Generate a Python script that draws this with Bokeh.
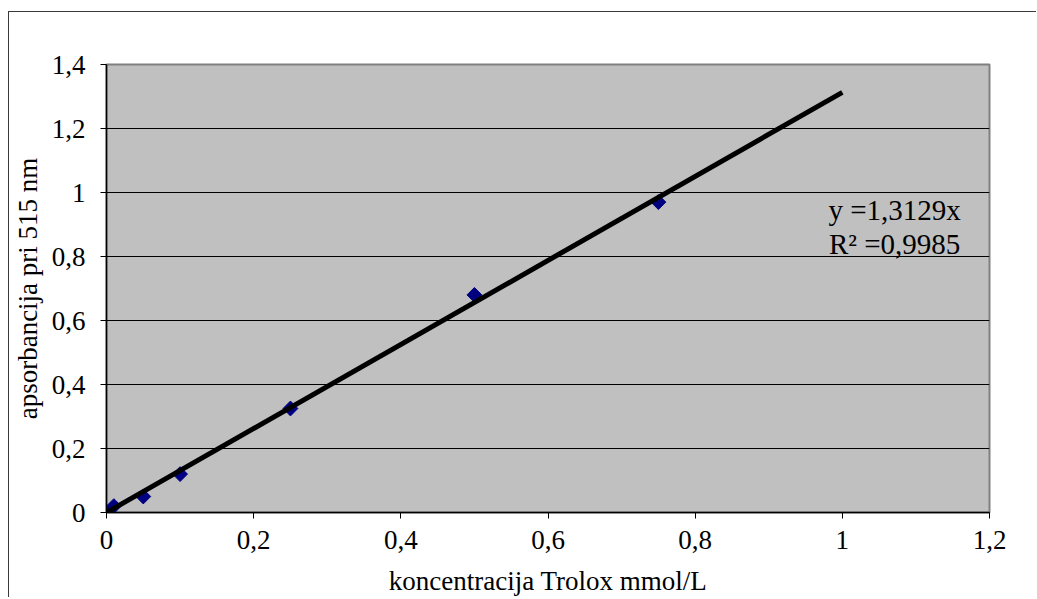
import math
from bokeh.plotting import figure
from bokeh.models import Range1d, CustomJSTickFormatter, FixedTicker, Label
from bokeh.embed import file_html
from bokeh.resources import INLINE

# Data
concentration = [0.0, 0.01, 0.05, 0.1, 0.25, 0.5, 0.75]
absorbance = [0.0, 0.02, 0.05, 0.12, 0.325, 0.68, 0.97]
slope = 1.3129
r_squared = 0.9985
trend_x = [0.0, 1.0]
x_ticks = [0, 0.2, 0.4, 0.6, 0.8, 1.0, 1.2]
y_ticks = [0, 0.2, 0.4, 0.6, 0.8, 1.0, 1.2, 1.4]
x_title = "koncentracija Trolox mmol/L"
y_title = "apsorbancija pri 515 nm"
eq_line1 = "y =1,3129x"
eq_line2 = "R² =0,9985"

FONT = "Liberation Serif"
FS = "27px"

p = figure(width=1028, height=586, output_backend="svg", toolbar_location=None,
           x_range=Range1d(0, 1.2), y_range=Range1d(0, 1.4),
           min_border_left=94, min_border_right=48, min_border_top=52, min_border_bottom=83)
p.styles = {"border-left": "1px solid #3a3a3a", "border-top": "1px solid #3a3a3a",
            "margin-top": "11px", "margin-left": "8px"}

p.background_fill_color = "#C0C0C0"
p.border_fill_color = "white"
p.outline_line_color = "#808080"
p.outline_line_width = 2

fmt = CustomJSTickFormatter(code="return String(Number(tick.toFixed(2))).replace('.', ',');")

for ax in (p.xaxis[0], p.yaxis[0]):
    ax.formatter = fmt
    ax.axis_line_color = "black"
    ax.axis_line_width = 1.5
    ax.major_tick_line_color = "black"
    ax.major_tick_out = 6
    ax.major_tick_in = 0
    ax.minor_tick_line_color = None
    ax.major_label_text_font = FONT
    ax.major_label_text_font_size = FS
    ax.major_label_text_color = "black"
    ax.axis_label_text_font = FONT
    ax.axis_label_text_font_size = FS
    ax.axis_label_text_font_style = "normal"
    ax.axis_label_text_color = "black"

p.xaxis[0].ticker = FixedTicker(ticks=x_ticks)
p.yaxis[0].ticker = FixedTicker(ticks=y_ticks)
p.xaxis[0].axis_label = x_title
p.yaxis[0].axis_label = y_title
p.xaxis[0].major_label_standoff = 12
p.yaxis[0].major_label_standoff = 15
p.xaxis[0].axis_label_standoff = 14
p.yaxis[0].axis_label_standoff = 6

p.xgrid.grid_line_color = None
p.ygrid.grid_line_color = "black"
p.ygrid.grid_line_width = 1
p.ygrid.ticker = FixedTicker(ticks=y_ticks)

p.scatter(concentration, absorbance, marker="square", angle=math.pi / 4, size=10.5,
          fill_color="#000080", line_color="#000080")

trend_y = [slope * x for x in trend_x]
p.line(trend_x, trend_y, line_color="black", line_width=5)

p.add_layout(Label(x=1.071, y=0.945, text=eq_line1, text_font=FONT, text_font_size="29px",
                   text_align="center", text_baseline="middle", text_color="black"))
p.add_layout(Label(x=1.071, y=0.84, text=eq_line2, text_font=FONT, text_font_size="29px",
                   text_align="center", text_baseline="middle", text_color="black"))

open("out.html", "w").write(file_html(p, INLINE))
